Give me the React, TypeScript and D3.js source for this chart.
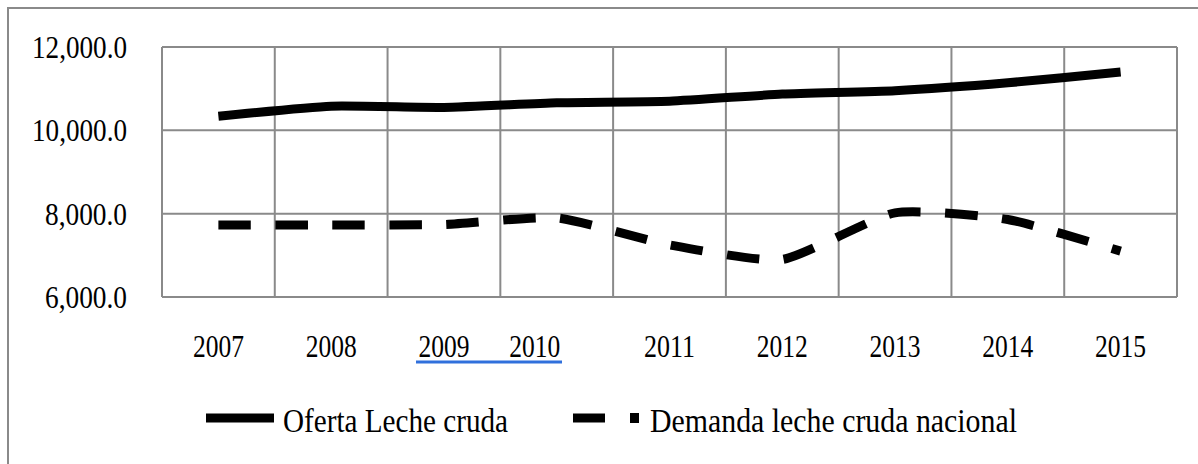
import React from "react";
import * as d3 from "d3";

const years = ["2007", "2008", "2009", "2010", "2011", "2012", "2013", "2014", "2015"];
const oferta = [10340, 10580, 10550, 10660, 10700, 10870, 10950, 11140, 11400];
const demanda = [7730, 7730, 7740, 7900, 7250, 6900, 8020, 7860, 7100];
const yTicks = [6000, 8000, 10000, 12000];
const seriesNames = ["Oferta Leche cruda", "Demanda leche cruda nacional"];

const W = 1198;
const H = 464;
const plot = { left: 162, right: 1177, top: 47, bottom: 297 };
const grid = "#8a8a8a";
const font = "'Liberation Serif', 'Times New Roman', serif";

export default function App() {
  const x = d3.scaleBand<string>().domain(years).range([plot.left, plot.right]);
  const y = d3.scaleLinear().domain([6000, 12000]).range([plot.bottom, plot.top]);
  const xc = (yr: string) => (x(yr) as number) + x.bandwidth() / 2;
  const fmt = d3.format(",.1f");

  const line = d3
    .line<number>()
    .x((_, i) => xc(years[i]))
    .y((d) => y(d))
    .curve(d3.curveCardinal.tension(0.45));

  const vLines = years.map((yr) => x(yr) as number).concat([plot.right]);
  // label 2010 is shifted left in the original
  const labelShift = (yr: string) => (yr === "2010" ? -22 : 0);

  return (
    <div style={{ position: "fixed", left: 0, top: 0 }}>
      <svg width={W} height={H} style={{ display: "block", background: "#fff" }}>
        <rect x={0} y={0} width={W} height={H} fill="#fff" />
        {/* outer chart border */}
        <rect x={8} y={8} width={W + 20} height={H + 20} fill="none" stroke={grid} strokeWidth={2} />
        {/* horizontal gridlines */}
        {yTicks.map((t) => (
          <line key={"h" + t} x1={plot.left} x2={plot.right} y1={y(t)} y2={y(t)} stroke={grid} strokeWidth={2} />
        ))}
        {/* vertical gridlines */}
        {vLines.map((vx, i) => (
          <line key={"v" + i} x1={vx} x2={vx} y1={plot.top} y2={plot.bottom} stroke={grid} strokeWidth={2} />
        ))}
        {/* y labels */}
        {yTicks.map((t) => {
          const s = fmt(t);
          return (
            <text
              key={"yl" + t}
              x={127}
              y={y(t) + 11}
              textAnchor="end"
              fontFamily={font}
              fontSize={32}
              fill="#000"
              textLength={s.length === 8 ? 95 : 82}
              lengthAdjust="spacingAndGlyphs"
            >
              {s}
            </text>
          );
        })}
        {/* x labels */}
        {years.map((yr) => (
          <text
            key={"xl" + yr}
            x={xc(yr) + labelShift(yr) - 25.5}
            y={357}
            fontFamily={font}
            fontSize={32}
            fill="#000"
            textLength={51}
            lengthAdjust="spacingAndGlyphs"
          >
            {yr}
          </text>
        ))}
        {/* spell-check underline */}
        <line x1={416} x2={562} y1={362} y2={362} stroke="#3070dc" strokeWidth={3} />
        {/* series */}
        <path d={line(oferta) || ""} fill="none" stroke="#000" strokeWidth={9} strokeLinecap="butt" strokeLinejoin="round" />
        <path
          d={line(demanda) || ""}
          fill="none"
          stroke="#000"
          strokeWidth={9}
          strokeDasharray="32.5 24.5"
          strokeLinecap="butt"
          strokeLinejoin="round"
        />
        {/* legend */}
        <line x1={206} x2={274} y1={418} y2={418} stroke="#000" strokeWidth={9} />
        <text x={283} y={432} fontFamily={font} fontSize={34} fill="#000" textLength={225} lengthAdjust="spacingAndGlyphs">
          {seriesNames[0]}
        </text>
        <line x1={573} x2={605} y1={418} y2={418} stroke="#000" strokeWidth={9} />
        <rect x={630} y={413} width={9} height={10} fill="#000" />
        <text x={650} y={432} fontFamily={font} fontSize={34} fill="#000" textLength={367} lengthAdjust="spacingAndGlyphs">
          {seriesNames[1]}
        </text>
      </svg>
    </div>
  );
}
